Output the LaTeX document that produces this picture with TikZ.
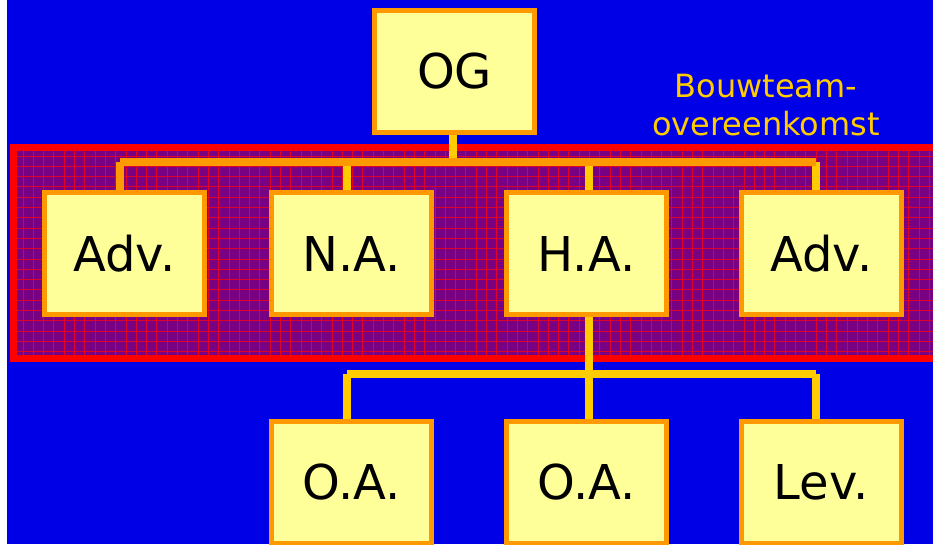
\documentclass[tikz,border=0pt]{standalone}
\usepackage{fontspec}
\setmainfont{DejaVu Sans}
\definecolor{bgblue}{RGB}{0,0,230}
\definecolor{bandpurple}{RGB}{120,0,130}
\definecolor{gridred}{RGB}{225,0,40}
\definecolor{framered}{RGB}{255,0,0}
\definecolor{orgc}{RGB}{255,153,0}
\definecolor{goldc}{RGB}{255,204,0}
\definecolor{boxyellow}{RGB}{255,255,153}
\pgfdeclarelayer{bglayer}
\pgfdeclarelayer{connlayer}
\pgfsetlayers{bglayer,connlayer,main}
\begin{document}
\begin{tikzpicture}[x=1pt,y=-1pt,
  box/.style={draw=orgc, line width=5pt, fill=boxyellow, minimum width=160pt,
    minimum height=122pt, inner sep=0pt, text=black, font=\fontsize{48}{58}\selectfont},
  goldline/.style={draw=goldc, line width=8pt},
  orangeline/.style={draw=orgc, line width=8pt}]
\useasboundingbox (0,0) rectangle (933,544);
\begin{pgfonlayer}{bglayer}
\fill[white] (0,0) rectangle (933,544);
\fill[bgblue] (7,0) rectangle (933,544);
\fill[bandpurple] (13.5,147.5) rectangle (945,358.5);
\begin{scope}
  \clip (17,151) rectangle (945,355);
  \foreach \i in {0,...,90} {
    \draw[gridred, line width=0.9pt] (23+\i*10.3,151) -- (23+\i*10.3,355);
  }
  \foreach \j in {0,...,20} {
    \draw[gridred, line width=0.9pt] (17,156+\j*10.3) -- (945,156+\j*10.3);
  }
\end{scope}
\draw[framered, line width=7pt] (13.5,147.5) rectangle (945,358.5);
\end{pgfonlayer}

\node[box] (og)   at (454.5,71)    {OG};
\node[box] (adv1) at (124.5,253.5) {Adv.};
\node[box] (na)   at (351.5,253.5) {N.A.};
\node[box] (ha)   at (586.5,253.5) {H.A.};
\node[box] (adv2) at (821.5,253.5) {Adv.};
\node[box] (oa1)  at (351.5,482.5) {O.A.};
\node[box] (oa2)  at (586.5,482.5) {O.A.};
\node[box] (lev)  at (821.5,482.5) {Lev.};

\coordinate (busL) at (120,162);
\coordinate (busR) at (816,162);
\coordinate (lowL) at (347,374);
\coordinate (lowR) at (816,374);
\begin{pgfonlayer}{connlayer}
\draw[goldline] ([xshift=-1.5pt]og.south) -- ([xshift=-1.5pt]og.south |- busL);
\draw[orangeline] (busL) -- ([xshift=-4.5pt]adv1.north);
\draw[goldline] ([xshift=-4.5pt]na.north |- busL) -- ([xshift=-4.5pt]na.north);
\draw[goldline] ([xshift=2.5pt]ha.north |- busL) -- ([xshift=2.5pt]ha.north);
\draw[goldline] ([xshift=-5.5pt]adv2.north |- busL) -- ([xshift=-5.5pt]adv2.north);
\draw[orangeline, line cap=square] (busL) -- (busR);
\draw[goldline] ([xshift=2.5pt]ha.south) -- ([xshift=2.5pt]oa2.north);
\draw[goldline, line cap=square] (lowL) -- (lowR);
\draw[goldline] (lowL) -- ([xshift=-4.5pt]oa1.north);
\draw[goldline] (lowR) -- ([xshift=-5.5pt]lev.north);
\end{pgfonlayer}

\node[font=\fontsize{32}{38}\selectfont, text=goldc, align=center, anchor=base, inner sep=0pt] (bt) at (766,135) {Bouwteam-\\overeenkomst};
\end{tikzpicture}
\end{document}
